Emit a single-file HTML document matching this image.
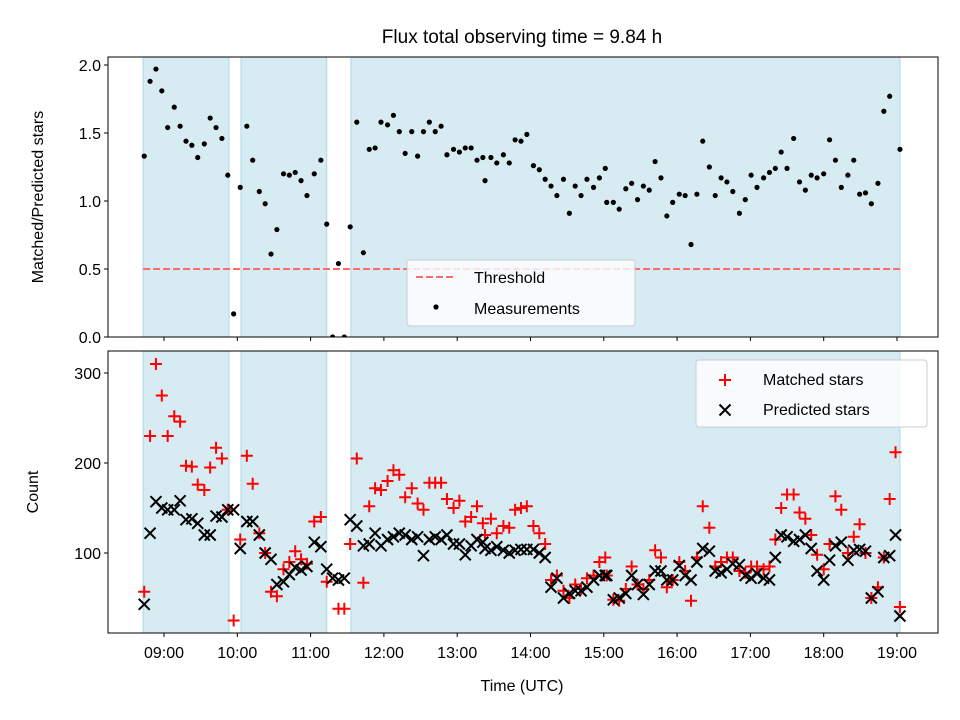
<!DOCTYPE html>
<html><head><meta charset="utf-8"><style>
body{margin:0;background:#fff}
svg{display:block;font-family:"Liberation Sans","DejaVu Sans",sans-serif}
</style></head><body>
<svg id="c" width="960" height="720" viewBox="0 0 960 720" xmlns="http://www.w3.org/2000/svg"></svg>
<script>
const spans=[[8.714,9.887],[10.05,11.22],[11.55,19.04]];
const times=[8.73,8.81,8.89,8.97,9.05,9.14,9.22,9.30,9.38,9.46,9.55,9.63,9.71,9.79,9.87,9.95,10.04,10.13,10.21,10.30,10.38,10.46,10.54,10.63,10.71,10.79,10.87,10.95,11.05,11.14,11.22,11.30,11.38,11.46,11.54,11.63,11.72,11.80,11.88,11.96,12.05,12.13,12.21,12.29,12.38,12.46,12.54,12.62,12.70,12.78,12.86,12.95,13.03,13.11,13.19,13.27,13.35,13.38,13.46,13.54,13.63,13.71,13.79,13.87,13.95,14.04,14.12,14.20,14.28,14.36,14.45,14.53,14.61,14.69,14.77,14.86,14.94,15.02,15.04,15.13,15.21,15.30,15.38,15.46,15.54,15.62,15.70,15.78,15.86,15.94,16.03,16.11,16.19,16.27,16.35,16.44,16.52,16.60,16.68,16.76,16.85,16.93,17.01,17.09,17.18,17.26,17.34,17.42,17.50,17.59,17.67,17.75,17.83,17.91,18.00,18.08,18.16,18.24,18.33,18.41,18.49,18.57,18.65,18.74,18.82,18.90,18.98,19.04];
const ratio=[1.33,1.88,1.97,1.81,1.54,1.69,1.55,1.44,1.41,1.32,1.42,1.61,1.54,1.46,1.19,0.17,1.10,1.55,1.30,1.07,0.98,0.61,0.79,1.20,1.19,1.21,1.15,1.04,1.20,1.30,0.83,0.0,0.54,0.0,0.81,1.58,0.62,1.38,1.39,1.58,1.56,1.63,1.51,1.35,1.51,1.33,1.51,1.58,1.51,1.55,1.34,1.38,1.36,1.39,1.39,1.30,1.32,1.15,1.32,1.28,1.34,1.28,1.45,1.44,1.49,1.26,1.23,1.16,1.11,1.04,1.16,0.91,1.11,1.04,1.16,1.10,1.17,1.24,0.99,0.99,0.94,1.09,1.13,1.01,1.11,1.08,1.29,1.17,0.89,0.99,1.05,1.04,0.68,1.05,1.44,1.25,1.04,1.17,1.14,1.07,0.91,1.01,1.19,1.10,1.17,1.21,1.24,1.36,1.24,1.46,1.14,1.08,1.19,1.17,1.20,1.45,1.30,1.10,1.19,1.30,1.05,1.06,0.98,1.13,1.66,1.77,null,1.38];
const matched=[57,230,310,275,230,252,246,197,196,176,170,195,217,205,148,25,115,208,177,122,100,57,52,82,90,102,93,88,135,140,68,0,38,38,110,205,67,152,172,170,180,192,187,162,172,155,148,178,178,178,160,150,158,135,140,152,133,120,138,122,130,128,148,150,152,130,122,110,70,75,58,50,65,60,72,75,90,95,75,48,47,60,85,65,60,70,103,95,62,70,90,80,47,95,152,128,85,90,95,95,80,78,85,85,82,85,115,150,165,165,145,138,120,98,82,110,163,148,100,118,132,100,50,62,95,160,212,40];
const predicted=[43,122,157,150,148,148,158,137,138,133,120,120,141,140,148,148,105,135,135,120,100,93,65,68,76,84,81,85,112,107,82,72,70,72,137,130,108,110,122,108,115,118,122,120,115,118,97,115,118,115,120,110,110,98,108,115,112,105,103,107,103,100,103,104,104,104,100,95,62,72,50,55,58,58,62,70,75,75,75,48,50,55,75,65,54,65,80,80,70,70,86,75,70,90,105,102,80,78,82,88,87,75,72,77,72,70,95,120,118,113,115,120,105,80,70,92,108,112,92,103,104,102,50,57,95,97,120,30];
const topTicks=[0.0,0.5,1.0,1.5,2.0];
const botTicks=[100,200,300];
const xTicks=[9,10,11,12,13,14,15,16,17,18,19];
const threshold=[0.5];

const NS="http://www.w3.org/2000/svg",svg=document.getElementById('c');
function el(t,a,p){const e=document.createElementNS(NS,t);for(const k in a)e.setAttribute(k,a[k]);(p||svg).appendChild(e);return e;}
const L=108,R=938,T1=57,B1=337,T2=351,B2=633;
const xs=h=>164+(h-9)*73.3;
const y1=v=>337-v*136;
const y2=v=>643-v*0.9;
function txt(x,y,s,attrs,name){const t=el('text',Object.assign({x:x,y:y,'font-size':16,fill:'#000'},attrs||{}));t.textContent=s;return t;}

txt(522,43,'Flux total observing time = 9.84 h',{'text-anchor':'middle','font-size':19},'chart-title');

[[T1,B1,'top'],[T2,B2,'bottom']].forEach(([T,B,nm])=>{
  const g=el('g',{});
  const cp=el('clipPath',{id:'cp'+nm},g);el('rect',{x:L,y:T,width:R-L,height:B-T},cp);
  spans.forEach((s,i)=>{const r=el('rect',{x:xs(s[0]),y:T,width:xs(s[1])-xs(s[0]),height:B-T,fill:'#add8e6','fill-opacity':0.5,stroke:'#add8e6'},g);
    });
  xTicks.forEach(h=>{el('line',{x1:xs(h),x2:xs(h),y1:B,y2:B+4,stroke:'#000','stroke-width':1},g);
    if(nm==='bottom'){txt(xs(h),B+25,(h<10?'0':'')+h+':00',{'text-anchor':'middle','font-size':16},'x-tick-label');}});
});
topTicks.forEach(v=>{el('line',{x1:L-4,x2:L,y1:y1(v),y2:y1(v),stroke:'#000'});txt(L-7,y1(v)+6,v.toFixed(1),{'text-anchor':'end'},'y-tick-label-top');});
const th=el('line',{x1:xs(spans[0][0]),x2:xs(spans[2][1]),y1:y1(threshold[0]),y2:y1(threshold[0]),stroke:'#ff6b6b','stroke-width':2,'stroke-dasharray':'7,3'});

const gm=el('g',{'clip-path':'url(#cptop)'});
times.forEach((t,i)=>{if(ratio[i]==null)return;const c=el('circle',{cx:xs(t),cy:y1(ratio[i]),r:2.6,fill:'#000'},gm);
  });
el('rect',{x:L,y:T1,width:R-L,height:B1-T1,fill:'none',stroke:'#000','stroke-width':1});
txt(43,197,'Matched/Predicted stars',{'text-anchor':'middle',transform:'rotate(-90 43 197)'},'y-axis-title-top');
const lg1=el('g',{});
el('rect',{x:407,y:260,width:228,height:66,rx:3,fill:'#fff','fill-opacity':0.8,stroke:'#ccc'},lg1);
el('line',{x1:416,x2:456,y1:277,y2:277,stroke:'#ff6b6b','stroke-width':2,'stroke-dasharray':'7,3'},lg1);
txt(474,283,'Threshold',{},'legend-entry-threshold');
el('circle',{cx:436,cy:307,r:2.6,fill:'#000'},lg1);
txt(474,314,'Measurements',{},'legend-entry-measurements');
botTicks.forEach(v=>{el('line',{x1:L-4,x2:L,y1:y2(v),y2:y2(v),stroke:'#000'});txt(L-7,y2(v)+6,String(v),{'text-anchor':'end'},'y-tick-label-bottom');});
const gb=el('g',{'clip-path':'url(#cpbottom)'});
times.forEach((t,i)=>{
  if(matched[i]!=null){const x=xs(t),y=y2(matched[i]);const p=el('path',{d:`M${x-6},${y}H${x+6}M${x},${y-6}V${y+6}`,stroke:'#f00','stroke-width':2},gb);
    }
});
times.forEach((t,i)=>{
  if(predicted[i]!=null){const x=xs(t),y=y2(predicted[i]);const p=el('path',{d:`M${x-5.5},${y-5.5}L${x+5.5},${y+5.5}M${x-5.5},${y+5.5}L${x+5.5},${y-5.5}`,stroke:'#000','stroke-width':2},gb);
    }
});
el('rect',{x:L,y:T2,width:R-L,height:B2-T2,fill:'none',stroke:'#000','stroke-width':1});
txt(38,492,'Count',{'text-anchor':'middle',transform:'rotate(-90 38 492)'},'y-axis-title-bottom');
txt(522,691,'Time (UTC)',{'text-anchor':'middle'},'x-axis-title');
const lg2=el('g',{});
el('rect',{x:696,y:360,width:231,height:67,rx:3,fill:'#fff','fill-opacity':0.8,stroke:'#ccc'},lg2);
el('path',{d:'M719,380H731M725,374V386',stroke:'#f00','stroke-width':2},lg2);
txt(763,385,'Matched stars',{},'legend-entry-matched');
el('path',{d:'M719.5,404.5L730.5,415.5M719.5,415.5L730.5,404.5',stroke:'#000','stroke-width':2},lg2);
txt(763,415,'Predicted stars',{},'legend-entry-predicted');
</script>
</body></html>
